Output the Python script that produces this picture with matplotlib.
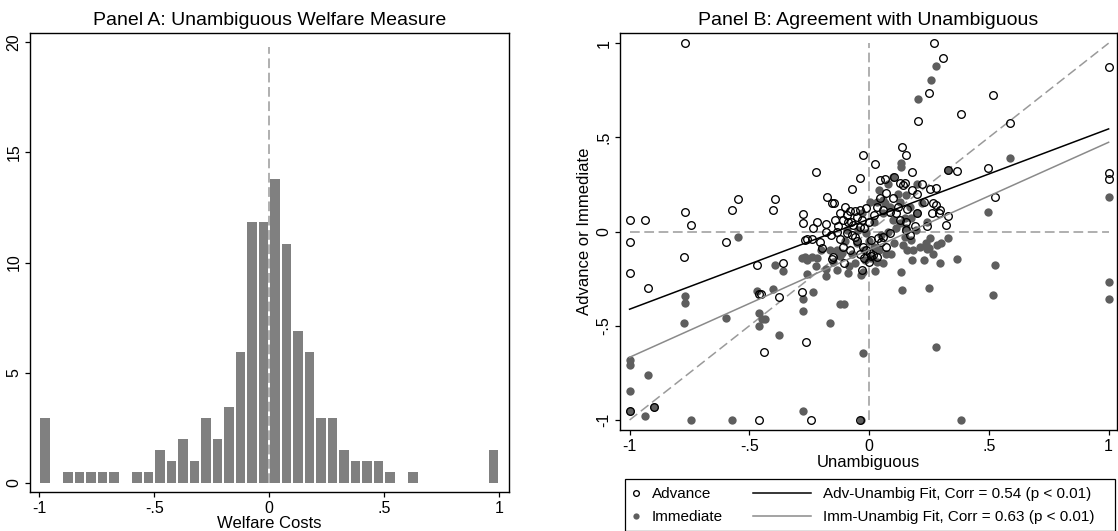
import numpy as np
import matplotlib
matplotlib.use("Agg")
import matplotlib.pyplot as plt
from matplotlib.patches import Rectangle

plt.rcParams['font.family'] = ['Liberation Sans', 'DejaVu Sans']
plt.rcParams['lines.scale_dashes'] = False

# Panel A: histogram of welfare costs (counts per 0.05 bin, -1 .. 1)
bin_start = -1.0
bin_width = 0.05
hist_counts = [6, 0, 1, 1, 1, 1, 1, 0, 1, 1,
               3, 2, 4, 2, 6, 4, 7, 12, 24, 24,
               28, 22, 14, 12, 6, 6, 3, 2, 2, 2,
               1, 0, 1, 0, 0, 0, 0, 0, 0, 3]

# Panel B: (unambiguous, advance) and (unambiguous, immediate)
advance_pts = [
    (-0.77, 1.0), (-1.0, 0.062), (-0.936, 0.062), (-0.77, 0.104), (-0.742, 0.037),
    (-0.572, 0.115), (-0.549, 0.172), (-1.0, -0.057), (-0.596, -0.057), (-0.774, -0.133),
    (-1.0, -0.221), (-0.922, -0.297), (-0.468, -0.179), (-0.458, -0.333), (-0.452, -0.333),
    (-0.439, -0.639), (-0.458, -1.0), (-1.0, -0.95), (-0.9, -0.93),
    (0.271, 1.0), (0.308, 0.922), (0.251, 0.738), (0.204, 0.586), (0.385, 0.625),
    (-0.394, 0.175), (-0.401, 0.115), (-0.361, -0.168), (-0.376, -0.345), (-0.264, -0.588),
    (-0.244, -1.0), (-0.036, -1.0),
    (1.0, 0.873), (0.517, 0.724), (0.59, 0.575), (0.496, 0.335), (0.526, 0.184),
    (1.0, 0.313), (1.0, 0.28),
    (0.139, 0.448), (0.153, 0.404), (-0.025, 0.409), (0.025, 0.358), (-0.221, 0.317),
    (-0.0375, 0.283), (-0.072, 0.225), (0.044, 0.274), (0.065, 0.28), (0.104, 0.292),
    (0.128, 0.26), (0.15, 0.26), (0.18, 0.315), (0.28, 0.23), (0.253, 0.225),
    (0.368, 0.319), (-0.174, 0.184), (-0.154, 0.154), (-0.148, 0.15), (-0.278, 0.096),
    (-0.278, 0.044), (-0.219, 0.051), (-0.181, 0.039), (-0.233, 0.019), (-0.269, -0.044),
    (-0.258, -0.041), (-0.238, -0.041), (-0.206, -0.053), (-0.197, -0.085), (-0.143, 0.062),
    (-0.108, 0.062), (-0.08, 0.111), (-0.06, 0.111), (-0.039, 0.115), (-0.011, 0.124),
    (0.031, 0.133), (0.058, 0.115), (0.086, 0.106), (0.114, 0.097), (0.128, 0.062),
    (0.156, 0.053), (0.19, 0.03), (0.229, 0.159), (0.267, 0.154), (0.28, 0.142),
    (0.294, 0.115), (0.261, 0.097), (0.292, 0.097), (0.33, 0.083), (0.243, 0.03),
    (-0.136, 0.0), (-0.094, -0.009), (-0.06, -0.027), (-0.108, -0.08), (-0.08, -0.097),
    (-0.15, -0.133), (-0.154, -0.147), (-0.025, -0.08), (-0.011, -0.097), (0.003, -0.115),
    (0.017, -0.124), (0.031, -0.133), (0.01, -0.044), (0.0375, -0.035), (0.058, -0.027),
    (0.086, -0.005), (0.051, -0.053), (0.072, -0.08), (-0.067, 0.035), (-0.039, 0.027),
    (-0.094, 0.088), (-0.074, 0.053), (-0.03, -0.204), (0.156, 0.009), (0.169, -0.018),
    (0.044, 0.177), (0.072, 0.204), (-0.282, -0.319), (0.322, 0.035), (-0.106, -0.168),
    (0.142, 0.246), (-0.12, 0.1), (-0.1, 0.13), (-0.09, 0.05), (-0.05, 0.08),
    (-0.03, 0.06), (-0.02, 0.02), (-0.05, -0.05), (-0.07, -0.02), (0.0, 0.05),
    (0.02, 0.09), (0.1, 0.18), (0.12, 0.13), (0.16, 0.12), (0.2, 0.2),
    (0.22, 0.25), (0.18, 0.22), (0.2, 0.1), (-0.04, -0.12), (-0.02, -0.14),
    (0.0, -0.16), (0.01, -0.13), (-0.12, -0.04), (-0.16, -0.02), (-0.18, 0.0),
    (-0.13, 0.03), (0.328, 0.327),
]

immediate_pts = [
    (-0.549, -0.027), (-0.77, -0.34), (-0.77, -0.38), (-0.774, -0.487), (-0.596, -0.457),
    (-0.468, -0.315), (-0.458, -0.434), (-0.447, -0.462), (-0.436, -0.462), (-0.458, -0.5),
    (-1.0, -0.681), (-1.0, -0.708), (-0.922, -0.761), (-1.0, -0.846), (-1.0, -0.95),
    (-0.9, -0.93), (-0.936, -0.977), (-0.742, -1.0), (-0.572, -1.0),
    (0.279, 0.88), (0.26, 0.805), (0.206, 0.704), (-0.278, -0.952), (0.385, -1.0),
    (-0.032, -1.0), (-0.376, -0.549), (-0.1625, -0.483), (-0.278, -0.419), (-0.233, -0.322),
    (-0.278, -0.359), (-0.122, -0.384), (-0.104, -0.384), (-0.401, -0.304), (-0.393, -0.179),
    (-0.358, -0.207), (0.1375, -0.31), (0.251, -0.3), (0.279, -0.614), (-0.024, -0.642),
    (0.328, 0.327),
    (0.59, 0.388), (0.496, 0.104), (1.0, 0.182), (0.526, -0.177), (0.517, -0.336),
    (1.0, -0.269), (1.0, -0.359),
    (0.253, -0.032), (0.25, -0.088), (0.329, -0.035), (0.301, -0.062), (0.285, -0.073),
    (0.243, -0.092), (0.267, -0.119), (0.181, -0.15), (0.229, -0.15), (0.296, -0.165),
    (0.365, -0.143), (0.135, 0.363), (0.135, 0.342), (0.099, 0.29),
    (-0.282, -0.138), (-0.26, -0.15), (-0.24, -0.133), (-0.219, -0.142), (-0.26, -0.227),
    (-0.178, -0.2), (-0.178, -0.235), (-0.132, -0.204), (-0.0875, -0.221), (-0.083, -0.182),
    (-0.032, -0.23), (0.024, -0.207), (-0.06, -0.168), (-0.018, -0.15), (-0.164, -0.097),
    (-0.136, -0.097), (-0.115, -0.115), (0.072, -0.119), (0.09, -0.119), (0.176, -0.044),
    (0.149, -0.027), (0.197, 0.009), (0.104, -0.062),
    (0.042, 0.221), (0.058, 0.168), (0.003, 0.159), (0.031, 0.159), (0.065, 0.15),
    (0.086, 0.133), (0.128, 0.159), (0.156, 0.195), (0.169, 0.133), (0.176, 0.071),
    (0.149, 0.071), (0.1, 0.062), (0.128, 0.044), (0.114, 0.018), (0.156, 0.018),
    (-0.094, 0.009), (-0.046, 0.009), (-0.011, -0.009), (-0.268, -0.133), (0.01, -0.142),
    (0.031, -0.159), (0.058, -0.168), (0.183, -0.097), (0.211, -0.08), (0.239, -0.062),
    (0.135, -0.212), (-0.025, -0.212),
    (0.0, -0.05), (-0.02, -0.1), (0.02, -0.08), (0.05, -0.02), (0.08, 0.0),
    (-0.05, -0.06), (-0.1, -0.05), (-0.2, -0.1), (-0.15, -0.16), (-0.12, -0.13),
    (-0.22, -0.18), (0.2, 0.25), (0.22, 0.15), (0.2, 0.1), (0.24, 0.05),
    (0.12, 0.2), (0.08, 0.25), (0.06, 0.1), (0.02, 0.05), (-0.03, 0.1),
    (0.16, -0.1), (0.14, -0.07), (-0.07, -0.12), (0.04, -0.1),
]

# fitted lines: (intercept, slope)
adv_fit = (0.0665, 0.4785)
imm_fit = (-0.0965, 0.5705)
fit_range = (-1.0, 1.0)

ticks_ab = [-1, -0.5, 0, 0.5, 1]
tick_labels_ab = ['-1', '-.5', '0', '.5', '1']
hist_yticks = [0, 5, 10, 15, 20]

DASH = (7, 3.3)
REF_GRAY = '#9a9a9a'


def style_axes(ax):
    for s in ax.spines.values():
        s.set_linewidth(1.0)
        s.set_color('black')
    ax.tick_params(axis='both', direction='out', length=3.8, width=0.9,
                   labelsize=11.5, pad=2.5, colors='black')
    for lab in ax.get_yticklabels():
        lab.set_rotation(90)
        lab.set_va('center')


fig = plt.figure(figsize=(11.18, 5.31), dpi=100)

# ---- Panel A
ax1 = fig.add_axes([30 / 1118, 1 - 492 / 531, 479 / 1118, 459 / 531])
counts = np.array(hist_counts, dtype=float)
pct = counts / counts.sum() * 100
centers = bin_start + bin_width * (np.arange(len(counts)) + 0.5)
ax1.bar(centers, pct, width=bin_width * 0.82, color='#808080', linewidth=0)
ax1.plot([0, 0], [0, 19.8], color=REF_GRAY, lw=1.1, dashes=DASH)
ax1.set_xlim(-1.04, 1.042)
ax1.set_ylim(-0.43, 20.43)
ax1.set_xticks(ticks_ab)
ax1.set_xticklabels(tick_labels_ab)
ax1.set_yticks(hist_yticks)
ax1.set_yticklabels([str(t) for t in hist_yticks])
ax1.set_xlabel('Welfare Costs', fontsize=12, labelpad=0.5)
ax1.set_title('Panel A: Unambiguous Welfare Measure', fontsize=14, pad=5.5)
style_axes(ax1)

# ---- Panel B
ax2 = fig.add_axes([620 / 1118, 1 - 430 / 531, 497 / 1118, 397 / 531])
adv = np.array(advance_pts)
imm = np.array(immediate_pts)
ax2.plot(fit_range, fit_range, color=REF_GRAY, lw=1.1, dashes=DASH, zorder=1)
ax2.plot(fit_range, [0, 0], color=REF_GRAY, lw=1.1, dashes=DASH, zorder=1)
ax2.plot([0, 0], fit_range, color=REF_GRAY, lw=1.1, dashes=DASH, zorder=1)
imm_h, = ax2.plot(imm[:, 0], imm[:, 1], 'o', ms=6.0, mfc='#5e5e5e', mec='#5e5e5e',
                  mew=0, ls='none', zorder=2, label='Immediate')
adv_h, = ax2.plot(adv[:, 0], adv[:, 1], 'o', ms=5.5, mfc='none', mec='black',
                  mew=0.95, ls='none', zorder=3, label='Advance')
fx = np.array(fit_range)
adv_l, = ax2.plot(fx, adv_fit[0] + adv_fit[1] * fx, color='black', lw=1.1, zorder=4,
                  label='Adv-Unambig Fit, Corr = 0.54 (p < 0.01)')
imm_l, = ax2.plot(fx, imm_fit[0] + imm_fit[1] * fx, color='#8a8a8a', lw=1.1, zorder=4,
                  label='Imm-Unambig Fit, Corr = 0.63 (p < 0.01)')
ax2.set_xlim(-1.04, 1.035)
ax2.set_ylim(-1.053, 1.054)
ax2.set_xticks(ticks_ab)
ax2.set_xticklabels(tick_labels_ab)
ax2.set_yticks(ticks_ab)
ax2.set_yticklabels(tick_labels_ab)
ax2.set_xlabel('Unambiguous', fontsize=12, labelpad=1)
ax2.set_ylabel('Advance or Immediate', fontsize=12, labelpad=3)
ax2.set_title('Panel B: Agreement with Unambiguous', fontsize=14, pad=5.5)
style_axes(ax2)

# legend: box under panel B with two columns
fig.patches.append(Rectangle((625 / 1118, 0.0), 490 / 1118, 52 / 531,
                             transform=fig.transFigure, fill=False,
                             edgecolor='black', lw=0.9))
fig.legend(handles=[adv_h, imm_h], loc='upper left',
           bbox_to_anchor=(626 / 1118, 1 - 484 / 531), frameon=False,
           fontsize=11, handlelength=0.9, handletextpad=0.6, labelspacing=0.6,
           borderaxespad=0, borderpad=0.2, markerscale=0.75)
fig.legend(handles=[adv_l, imm_l], loc='upper left',
           bbox_to_anchor=(750 / 1118, 1 - 484 / 531), frameon=False,
           fontsize=11, handlelength=3.8, handletextpad=0.75, labelspacing=0.6,
           borderaxespad=0, borderpad=0.2)

fig.savefig('out.png', dpi=100)
